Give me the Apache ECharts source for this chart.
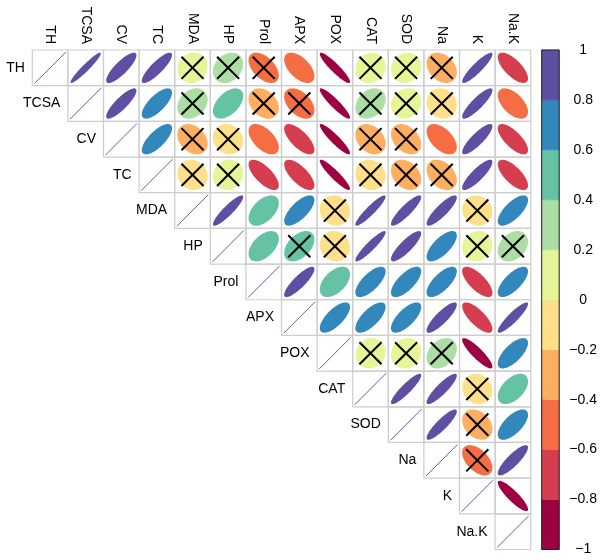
<!DOCTYPE html>
<html>
<head>
<meta charset="utf-8">
<script src="https://cdn.jsdelivr.net/npm/echarts@6/dist/echarts.min.js"></script>
<style>html,body{margin:0;padding:0;background:#fff}#c{width:600px;height:560px}</style>
</head>
<body>
<div id="c"></div>
<script>
// Variables (rows and columns of the correlation matrix)
const vars = ['TH','TCSA','CV','TC','MDA','HP','Prol','APX','POX','CAT','SOD','Na','K','Na.K'];

// Upper-triangle correlations: each row lists values for the columns right of the diagonal
const rTH   = [0.95, 0.83, 0.85, 0.1, 0.25, -0.5, -0.55, -0.92, 0.1, 0.1, -0.3, 0.9, -0.7];
const rTCSA = [0.85, 0.72, 0.25, 0.5, -0.3, -0.45, -0.92, 0.28, 0.12, -0.1, 0.87, -0.55];
const rCV   = [0.72, -0.3, -0.12, -0.55, -0.7, -0.92, -0.3, -0.35, -0.52, 0.85, -0.72];
const rTC   = [-0.1, 0.1, -0.7, -0.7, -0.92, -0.1, -0.3, -0.35, 0.85, -0.7];
const rMDA  = [0.9, 0.5, 0.7, -0.08, 0.92, 0.88, 0.86, -0.1, 0.7];
const rHP   = [0.5, 0.45, -0.08, 0.92, 0.85, 0.7, 0.1, 0.3];
const rProl = [0.85, 0.5, 0.7, 0.7, 0.7, -0.72, 0.7];
const rAPX  = [0.7, 0.7, 0.7, 0.85, -0.75, 0.9];
const rPOX  = [0.1, 0.1, 0.3, -0.88, 0.68];
const rCAT  = [0.9, 0.88, -0.1, 0.5];
const rSOD  = [0.88, -0.3, 0.65];
const rNa   = [-0.5, 0.85];
const rK    = [-0.88];
const rows = [rTH, rTCSA, rCV, rTC, rMDA, rHP, rProl, rAPX, rPOX, rCAT, rSOD, rNa, rK, []];

// Non-significant pairs (marked with a cross)
const insignificant = [
  ['TH','MDA'],['TH','HP'],['TH','Prol'],['TH','CAT'],['TH','SOD'],['TH','Na'],
  ['TCSA','MDA'],['TCSA','Prol'],['TCSA','APX'],['TCSA','CAT'],['TCSA','SOD'],['TCSA','Na'],
  ['CV','MDA'],['CV','HP'],['CV','CAT'],['CV','SOD'],
  ['TC','MDA'],['TC','HP'],['TC','CAT'],['TC','SOD'],['TC','Na'],
  ['MDA','POX'],['MDA','K'],
  ['HP','APX'],['HP','POX'],['HP','K'],['HP','Na.K'],
  ['POX','CAT'],['POX','SOD'],['POX','Na'],
  ['CAT','K'],['SOD','K'],['Na','K']
];

// Colour scale (Spectral, 10 bins from -1 to 1)
const palette = ['#9E0142','#D53E4F','#F46D43','#FDAE61','#FEE08B','#E6F598','#ABDDA4','#66C2A5','#3288BD','#5E4FA2'];
const binEdges = [-1,-0.8,-0.6,-0.4,-0.2,0,0.2,0.4,0.6,0.8,1];

function colorOf(r){
  let i = Math.floor((r + 1) / 0.2 + 1e-9);
  if (i > 9) i = 9; if (i < 0) i = 0;
  return palette[i];
}
const nsSet = new Set(insignificant.map(p => p[0] + '|' + p[1]));

const cellData = [];
rows.forEach((vals, i) => {
  cellData.push([i, i, 1, 0]);
  vals.forEach((r, k) => {
    const j = i + 1 + k;
    cellData.push([j, i, r, nsSet.has(vars[i] + '|' + vars[j]) ? 1 : 0]);
  });
});
const labelData = vars.map((v, i) => [i, i]);
const binData = palette.map((c, i) => [binEdges[i], binEdges[i + 1], i]);

const FONT = '"Liberation Sans", Arial, Helvetica, sans-serif';
const chart = echarts.init(document.getElementById('c'), null, {renderer: 'canvas'});

chart.setOption({
  backgroundColor: '#fff',
  animation: false,
  grid: [
    {left: 32.3, top: 50, width: 498.4, height: 499.5, containLabel: false},
    {left: 541.7, top: 50, width: 17.6, height: 499.5, containLabel: false}
  ],
  xAxis: [
    {type: 'category', gridIndex: 0, data: vars, position: 'top',
     axisLine: {show: false}, axisTick: {show: false}, splitLine: {show: false},
     axisLabel: {rotate: 90, margin: 6, fontSize: 14, color: '#000', fontFamily: FONT, interval: 0}},
    {type: 'value', gridIndex: 1, min: 0, max: 1, show: false}
  ],
  yAxis: [
    {type: 'category', gridIndex: 0, data: vars, inverse: true, show: false},
    {type: 'value', gridIndex: 1, min: -1, max: 1, interval: 0.2, position: 'right',
     axisLine: {show: false},
     axisTick: {show: true, length: 4, lineStyle: {color: '#000', width: 1}},
     splitLine: {show: false},
     axisLabel: {show: true, margin: 24, align: 'center', fontSize: 14, color: '#000', fontFamily: FONT,
       showMinLabel: true, showMaxLabel: true,
       formatter: v => { const n = Number(v.toFixed(1)); return n < 0 ? '\u2212' + String(-n) : String(n); }}}
  ],
  series: [
    {
      type: 'custom', xAxisIndex: 0, yAxisIndex: 0, data: cellData, silent: true,
      renderItem: function(params, api){
        const x = api.value(0), y = api.value(1), r = api.value(2), ns = api.value(3);
        const c = api.coord([x, y]);
        const s = api.size([1, 1]);
        const w = s[0], h = s[1];
        const children = [{
          type: 'rect',
          shape: {x: c[0] - w / 2, y: c[1] - h / 2, width: w, height: h},
          style: {fill: 'none', stroke: '#cdcdcd', lineWidth: 1.2}
        }];
        if (x === y) {
          children.push({
            type: 'polyline',
            shape: {points: [[c[0] - 0.44 * w, c[1] + 0.44 * h], [c[0] + 0.44 * w, c[1] - 0.44 * h]]},
            style: {stroke: '#6a5cb0', lineWidth: 1, fill: 'none'}
          });
        } else {
          const d = Math.acos(Math.max(-1, Math.min(1, r)));
          const pts = [];
          const N = 80;
          for (let k = 0; k < N; k++) {
            const t = 2 * Math.PI * k / N;
            pts.push([c[0] + Math.cos(t + d / 2) / 2 * 0.85 * w,
                      c[1] - Math.cos(t - d / 2) / 2 * 0.85 * h]);
          }
          children.push({type: 'polygon', shape: {points: pts}, style: {fill: colorOf(r), stroke: null}});
          if (ns) {
            const a = 0.31 * w, b = 0.31 * h;
            children.push({type: 'line', shape: {x1: c[0] - a, y1: c[1] - b, x2: c[0] + a, y2: c[1] + b},
                           style: {stroke: '#000', lineWidth: 2}});
            children.push({type: 'line', shape: {x1: c[0] - a, y1: c[1] + b, x2: c[0] + a, y2: c[1] - b},
                           style: {stroke: '#000', lineWidth: 2}});
          }
        }
        return {type: 'group', children: children};
      }
    },
    {
      type: 'custom', xAxisIndex: 0, yAxisIndex: 0, data: labelData, silent: true, clip: false,
      renderItem: function(params, api){
        const i = api.value(0);
        const c = api.coord([i, i]);
        const s = api.size([1, 1]);
        return {type: 'text', style: {x: c[0] - s[0] / 2 - 7.5, y: c[1], text: vars[i],
          fill: '#000', font: '14px ' + FONT, textAlign: 'right', textVerticalAlign: 'middle'}};
      }
    },
    {
      type: 'custom', xAxisIndex: 1, yAxisIndex: 1, data: binData, silent: true,
      renderItem: function(params, api){
        const p1 = api.coord([0, api.value(1)]);
        const p2 = api.coord([1, api.value(0)]);
        return {type: 'rect', shape: {x: p1[0], y: p1[1], width: p2[0] - p1[0], height: p2[1] - p1[1]},
                style: {fill: palette[api.value(2)], stroke: palette[api.value(2)], lineWidth: 0.5}};
      }
    },
    {
      type: 'custom', xAxisIndex: 1, yAxisIndex: 1, data: [[-1, 1]], silent: true, z: 5,
      renderItem: function(params, api){
        const p1 = api.coord([0, api.value(1)]);
        const p2 = api.coord([1, api.value(0)]);
        return {type: 'rect', shape: {x: p1[0], y: p1[1], width: p2[0] - p1[0], height: p2[1] - p1[1]},
                style: {fill: 'none', stroke: '#222', lineWidth: 1}};
      }
    }
  ]
});
</script>
</body>
</html>
